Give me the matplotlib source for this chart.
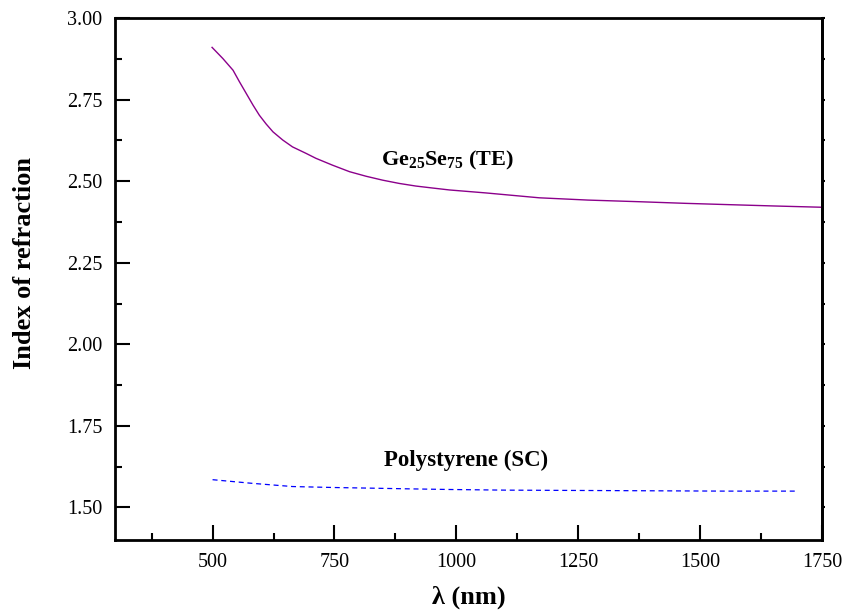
import matplotlib
matplotlib.use("Agg")
import matplotlib.pyplot as plt
from matplotlib.ticker import MultipleLocator, FormatStrFormatter

plt.rcParams['font.family'] = ['Liberation Serif', 'DejaVu Serif']
plt.rcParams['mathtext.fontset'] = 'custom'
plt.rcParams['mathtext.rm'] = 'Liberation Serif:bold'
plt.rcParams['mathtext.it'] = 'Liberation Serif:bold'
plt.rcParams['mathtext.bf'] = 'Liberation Serif:bold'

# Data
gese_wl = [499, 521, 542, 555, 569, 583, 596, 610, 624, 644, 664, 692, 712, 746,
           781, 815, 849, 883, 917, 951, 986, 1060, 1170, 1270, 1375, 1470, 1559,
           1650, 1750]
gese_n = [2.910, 2.876, 2.840, 2.805, 2.769, 2.733, 2.702, 2.675, 2.651, 2.626,
          2.605, 2.585, 2.570, 2.549, 2.529, 2.515, 2.503, 2.493, 2.485, 2.479,
          2.473, 2.464, 2.449, 2.442, 2.437, 2.432, 2.428, 2.424, 2.420]
ps_wl = [500, 580, 664, 750, 828, 900, 985, 1100, 1250, 1400, 1550, 1700]
ps_n = [1.585, 1.574, 1.564, 1.561, 1.559, 1.557, 1.555, 1.553, 1.552, 1.551, 1.550, 1.550]

fig = plt.figure(figsize=(8.46, 6.13), dpi=100)
ax = fig.add_axes([0.136, 0.119, 0.8356, 0.8516])

ax.plot(gese_wl, gese_n, color='#8B008B', lw=1.0)
ax.plot(ps_wl, ps_n, color='#0000FF', lw=0.9, ls=(0, (4, 3)))

ax.set_xlim(300, 1750)
ax.set_ylim(1.40, 3.00)
ax.set_xticks([500, 750, 1000, 1250, 1500, 1750])
ax.xaxis.set_minor_locator(MultipleLocator(125))
ax.yaxis.set_major_locator(MultipleLocator(0.25))
ax.yaxis.set_minor_locator(MultipleLocator(0.125))
ax.yaxis.set_major_formatter(FormatStrFormatter('%.2f'))

for s in ax.spines.values():
    s.set_linewidth(2.0)

ax.tick_params(axis='both', which='major', direction='in', length=11, width=1.5,
               labelsize=14.5, pad=9)
ax.tick_params(axis='both', which='minor', direction='in', length=5, width=1.5)

# tiny ticks on the right spine
ax_r = ax.secondary_yaxis('right')
ax_r.yaxis.set_major_locator(MultipleLocator(0.25))
ax_r.yaxis.set_minor_locator(MultipleLocator(0.125))
ax_r.tick_params(which='both', direction='out', length=2, width=1.5, labelright=False)
ax_r.spines['right'].set_linewidth(2.0)

ax.set_xlabel('λ (nm)', fontsize=19, fontweight='bold', labelpad=10)
ax.set_ylabel('Index of refraction', fontsize=19, fontweight='bold')
ax.yaxis.set_label_coords(-0.112, 0.531)

ax.text(846, 2.564, r'Ge$_{25}$Se$_{75}$ (TE)', fontsize=16, fontweight='bold',
        ha='left', va='center')
ax.text(1020, 1.644, 'Polystyrene (SC)', fontsize=16.5, fontweight='bold',
        ha='center', va='center')

fig.savefig('out.png', dpi=100)
